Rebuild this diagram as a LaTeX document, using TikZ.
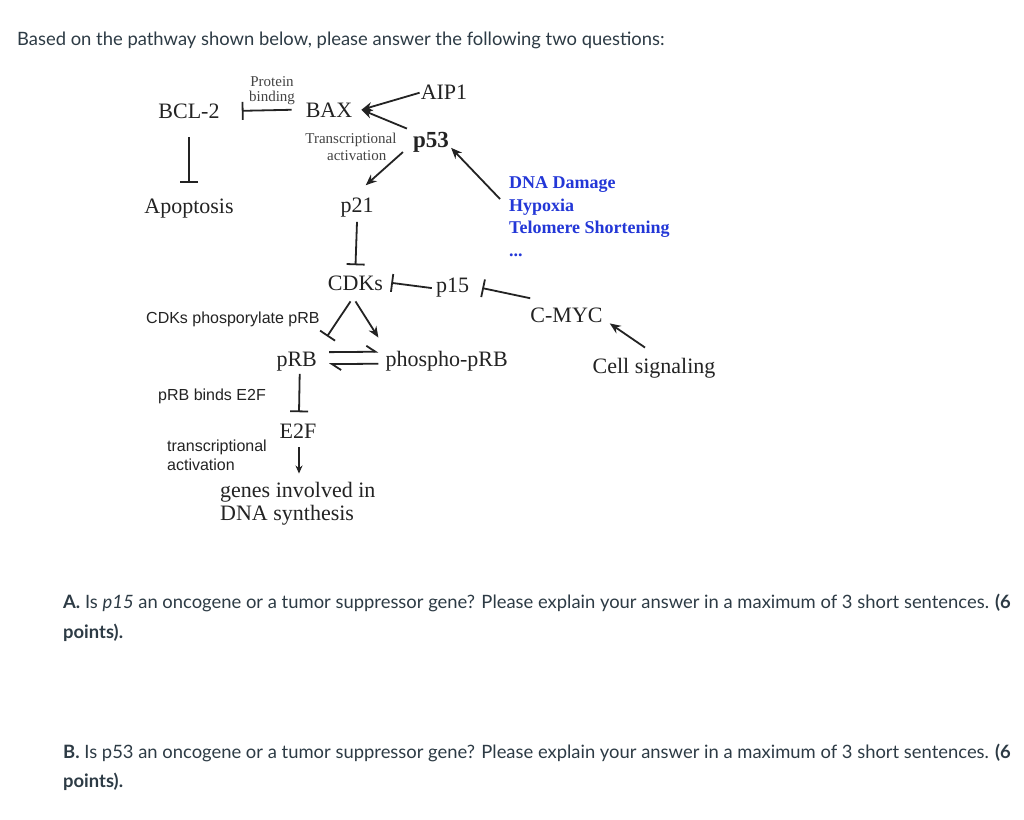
\documentclass[tikz,border=0pt]{standalone}
\usepackage{fontspec}
\setmainfont{Liberation Serif}
\setsansfont{Liberation Sans}
\newfontfamily\lato{Lato}
\usetikzlibrary{arrows.meta,calc}
\definecolor{ink}{RGB}{35,35,35}
\definecolor{dnablue}{RGB}{35,55,215}
\definecolor{canvas}{RGB}{45,59,69}
\begin{document}
\begin{tikzpicture}[x=1pt,y=-1pt,
  gene/.style={font=\fontsize{22}{26}\selectfont, text=ink, inner sep=0pt, anchor=base},
  genel/.style={gene, anchor=base west},
  tiny/.style={font=\fontsize{15}{16}\selectfont, text=ink!85, inner sep=0pt, anchor=base},
  lab/.style={font=\sffamily\fontsize{16}{18}\selectfont, text=ink, inner sep=0pt, anchor=base west},
  cue/.style={font=\bfseries\fontsize{18}{20}\selectfont, text=dnablue, inner sep=0pt, anchor=base west},
  qtext/.style={font=\lato\fontsize{18.4}{22}\selectfont, text=canvas, inner sep=0pt, anchor=base west},
  act/.style={draw=ink, line width=1.8pt, -{Stealth[length=11pt,width=9pt]}},
  inh/.style={draw=ink, line width=1.8pt, -{Bar[width=18pt,line width=1.8pt]}},
  harp/.style={draw=ink, line width=1.8pt, -{Straight Barb[harpoon,length=9pt,width=12pt,line width=1.8pt]}}
]
\fill[white] (0,0) rectangle (1024,819);
\useasboundingbox (0,0) rectangle (1024,819);

% question text
\node[qtext] (intro) at (17,45) {Based on the pathway shown below, please answer the following two questions:};
\node[qtext] (qa1) at (63,608) {\textbf{A.} Is \textit{p15} an oncogene or a tumor suppressor gene? Please explain your answer in a maximum of 3 short sentences. \textbf{(6}};
\node[qtext] (qa2) at (63,638) {\textbf{points).}};
\node[qtext] (qb1) at (63,758) {\textbf{B.} Is p53 an oncogene or a tumor suppressor gene? Please explain your answer in a maximum of 3 short sentences. \textbf{(6}};
\node[qtext] (qb2) at (63,787) {\textbf{points).}};

% gene nodes
\node[gene] (bcl) at (189,118) {BCL-2};
\node[gene] (bax) at (329,117) {BAX};
\node[gene] (aip) at (444,99) {AIP1};
\node[gene, font=\bfseries\fontsize{23}{26}\selectfont] (p53) at (431,147) {p53};
\node[gene] (apop) at (189,213) {Apoptosis};
\node[gene] (p21) at (357,212) {p21};
\node[gene] (cdks) at (355.5,290) {CDKs};
\node[gene] (p15) at (452.5,292) {p15};
\node[gene] (cmyc) at (566.5,322) {C-MYC};
\node[gene] (cell) at (654,373) {Cell signaling};
\node[gene] (prb) at (296.7,366) {pRB};
\node[gene] (pho) at (446.7,366) {phospho-pRB};
\node[gene] (e2f) at (298,438) {E2F};
\node[genel] (genes) at (220,497) {genes involved in};
\node[genel] (dnas) at (220,520) {DNA synthesis};

% blue cues
\node[cue] (dna) at (509,188) {DNA Damage};
\node[cue] (hyp) at (509,211) {Hypoxia};
\node[cue] (tel) at (509,233) {Telomere Shortening};
\node[cue] (dots) at (509,256) {...};

% small labels
\node[tiny] (prot) at (272,86.7) {Protein};
\node[tiny] (bind) at (272,101.7) {binding};
\node[tiny] (trans) at (351,143.3) {Transcriptional};
\node[tiny] (activ) at (356.7,160) {activation};
\node[lab] (phosl) at (146,323) {CDKs phosporylate pRB};
\node[lab] (bindl) at (158,400) {pRB binds E2F};
\node[lab] (tal1) at (167,451.7) {transcriptional};
\node[lab] (tal2) at (167,470) {activation};

% connectors
\draw[inh] ($(bax.west)+(-14,0)$) -- ($(bcl.east)+(22,0)$);
\draw[inh] ($(bcl.south)+(0,19)$) -- ($(apop.north)+(0,-15)$);
\draw[act] ($(aip.west)+(-1,1)$) -- ($(bax.east)+(9,0)$);
\draw[act] ($(p53.north west)+(-6,-3)$) -- ($(bax.east)+(9,0)$);
\draw[act] ($(p53.south west)+(-10,0)$) -- ($(p21.north east)+(-8,-12)$);
\draw[act] ($(dna.base west)+(-9,11)$) -- ($(p53.east)+(2,6)$);
\draw[inh] ($(p21.south)+(0,5)$) -- ($(cdks.north)+(0,-10)$);
\draw[inh] ($(p15.west)+(-4,1)$) -- ($(cdks.east)+(8,0)$);
\draw[inh] ($(cmyc.north west)+(0,-9)$) -- ($(p15.east)+(13,1)$);
\draw[act] ($(cell.north)+(-9,-10)$) -- ($(cmyc.south east)+(7,1)$);
\draw[inh] ($(cdks.south)+(-5,11)$) -- ($(prb.north east)+(10,-15)$);
\draw[act] ($(cdks.south)+(0,11)$) -- ($(pho.north west)+(-7,-13)$);
\draw[harp] ($(prb.east)+(12,-9)$) -- ($(pho.west)+(-7,-9)$);
\draw[harp] ($(pho.west)+(-7,3)$) -- ($(prb.east)+(12,3)$);
\draw[inh] ($(prb.south)+(3,3)$) -- ($(e2f.north)+(1,-11)$);
\draw[draw=ink, line width=1.8pt, -{Stealth[length=8pt,width=7pt]}] ($(e2f.south)+(1,9)$) -- ($(e2f.south |- genes.north)+(1,-8)$);
\end{tikzpicture}
\end{document}
